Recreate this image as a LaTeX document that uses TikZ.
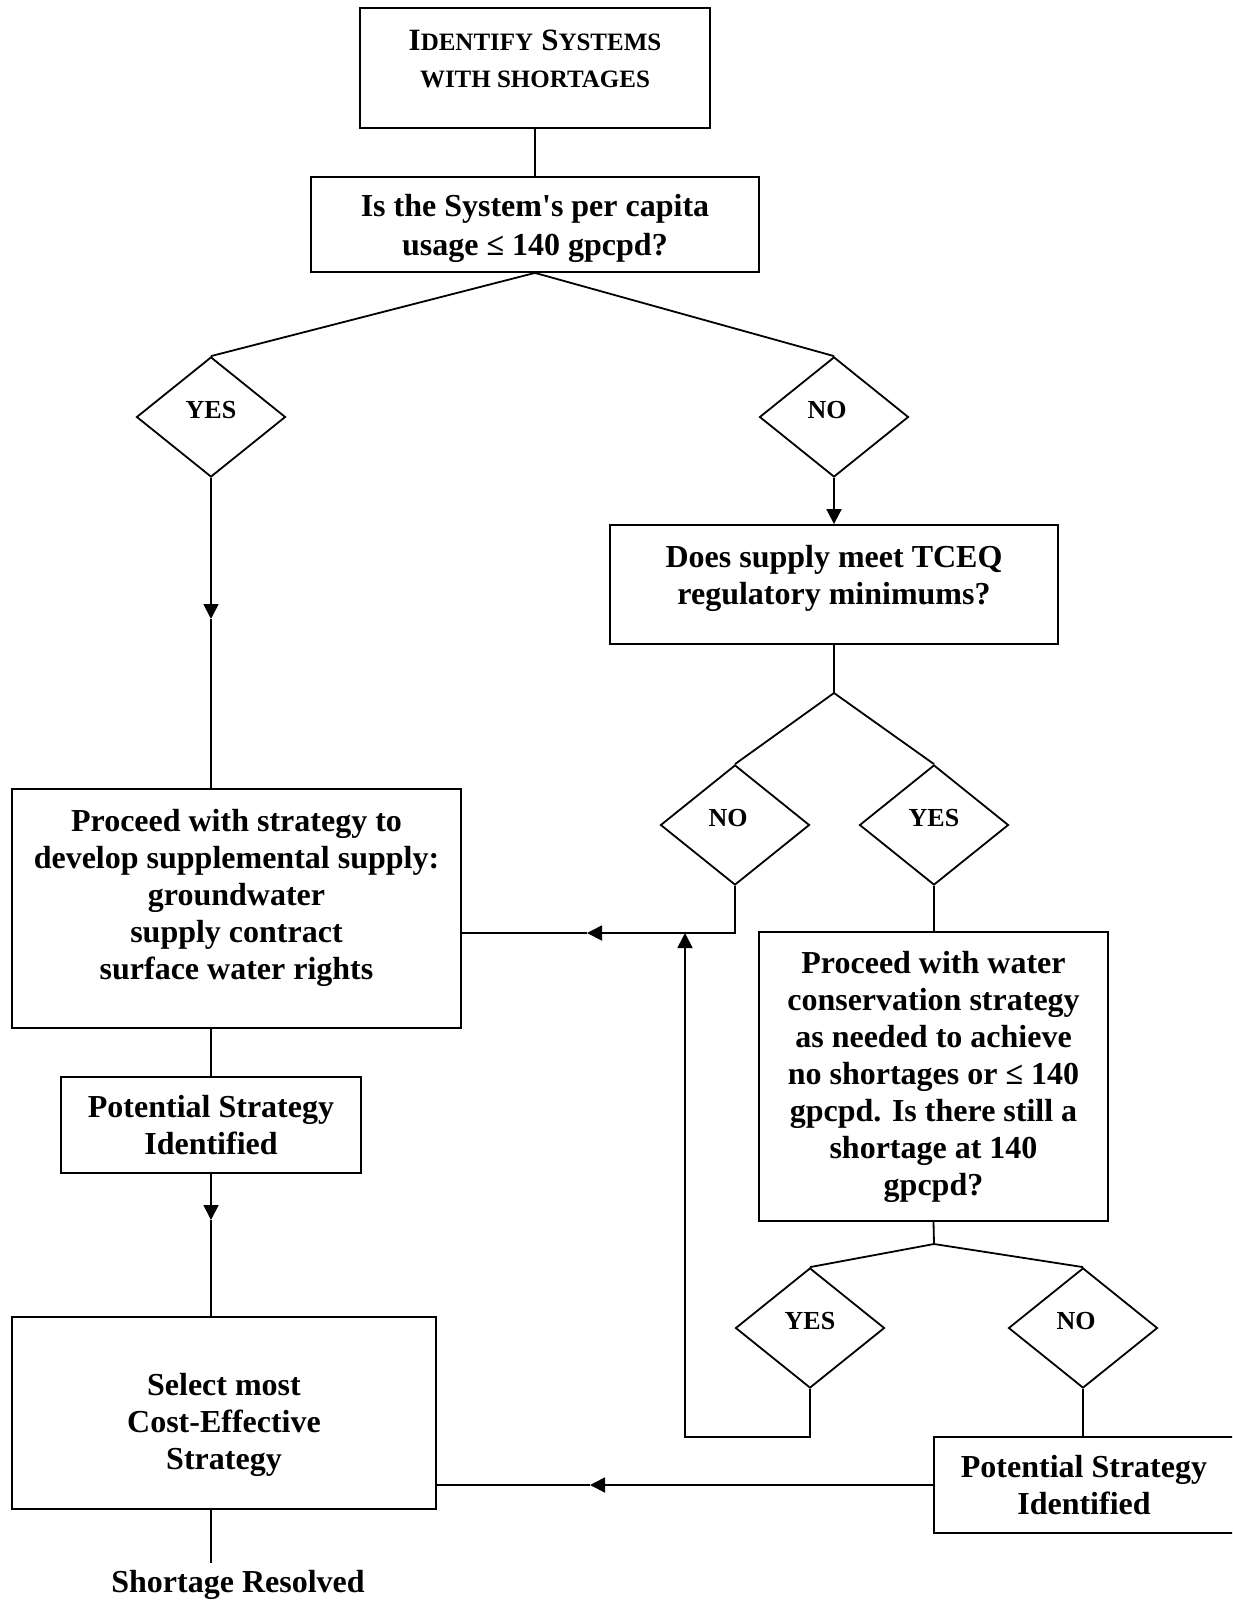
\documentclass[tikz,border=0pt]{standalone}
\usepackage{fontspec}
\setmainfont{Liberation Serif}
\usetikzlibrary{shapes.geometric,arrows.meta}

\newcommand{\capsc}[2]{{\fontsize{15.5}{18.5}\selectfont #1}{\fontsize{12.5}{18.5}\selectfont #2}}

\begin{document}
\begin{tikzpicture}[x=0.5pt,y=-0.5pt,line width=0.9pt,
	box/.style={draw, rectangle, align=center, inner sep=0pt, font=\fontsize{16}{18.5}\selectfont\bfseries},
	choice/.style={draw, diamond, inner sep=0pt, minimum width=74.5pt, minimum height=60pt, font=\fontsize{13}{15}\selectfont\bfseries, text depth=7pt},
	tip/.style={-{Triangle[length=7.5pt,width=7.5pt]}}]
	\useasboundingbox (0,0) rectangle (1232,1600);
	\clip (0,0) rectangle (1232,1600);

	% boxes and choices
	\node[box, minimum width=175pt, minimum height=60pt, text depth=9pt] (top) at (535,68) {\capsc{I}{DENTIFY} \capsc{S}{YSTEMS}\\{\fontsize{12.5}{18.5}\selectfont WITH SHORTAGES}};
	\node[box, minimum width=224pt, minimum height=47.5pt, text depth=0pt, font=\fontsize{16}{19.5}\selectfont\bfseries] (usage) at (535,224.5) {Is the System\textquotesingle s per capita\\usage ≤ 140 gpcpd?};
	\node[choice] (yes1) at (211,417) {YES};
	\node[choice] (no1) at (834,417) {NO\kern7pt};
	\node[box, minimum width=224pt, minimum height=59.5pt, text depth=9.5pt] (tceq) at (834,584.5) {Does supply meet TCEQ\\regulatory minimums?};
	\coordinate (fork2) at (834,693);
	\node[choice] (no2) at (735,825) {NO\kern7pt};
	\node[choice] (yes2) at (934,825) {YES};
	\node[box, minimum width=174.5pt, minimum height=144.5pt] (conserve) at (933.5,1076.5) {Proceed with water\\conservation strategy\\as needed to achieve\\no shortages or ≤ 140\\gpcpd. Is there still a\\shortage at 140\\gpcpd?};
	\coordinate (fork3) at (934,1244);
	\node[choice] (yes3) at (810,1328) {YES};
	\node[choice] (no3) at (1083,1328) {NO\kern7pt};
	\node[box, minimum width=150pt, minimum height=48pt] (found2) at (1084,1485) {Potential Strategy\\Identified};
	\node[box, minimum width=224.5pt, minimum height=119.5pt, text depth=14.5pt] (supply) at (236.5,908.5) {Proceed with strategy to\\develop supplemental supply:\\groundwater\\supply contract\\surface water rights};
	\node[box, minimum width=150pt, minimum height=48pt] (found1) at (211,1125) {Potential Strategy\\Identified};
	\node[box, minimum width=212pt, minimum height=96pt] (select) at (224,1413) {\rule{0pt}{23pt}Select most\\Cost-Effective\\Strategy};
	\node[font=\fontsize{16}{18.5}\selectfont\bfseries] (resolved) at (238,1585) {Shortage Resolved};

	% connectors
	\draw (top) -- (usage);
	\draw (usage.south) -- (yes1.north);
	\draw (usage.south) -- (no1.north);
	\coordinate (a1) at (211,619);
	\draw[tip] (yes1.south) -- (a1);
	\draw (a1) -- (a1 |- supply.north);
	\draw[tip] (no1) -- (tceq);
	\draw (tceq) -- (fork2);
	\draw (fork2) -- (no2.north);
	\draw (fork2) -- (yes2.north);
	\coordinate (a2) at (587,933);
	\draw[tip] (no2.south) |- (a2);
	\draw (a2) -- (a2 -| supply.east);
	\draw (yes2.south) -- (yes2.south |- conserve.north);
	\draw (conserve.south) -- (fork3);
	\draw (fork3) -- (yes3.north);
	\draw (fork3) -- (no3.north);
	\coordinate (a3) at (685,1437);
	\draw[tip] (yes3.south) |- (a3) -- (a3 |- a2);
	\draw (no3.south) -- (no3.south |- found2.north);
	\coordinate (a4) at (590,1485);
	\draw[tip] (found2.west) -- (a4);
	\draw (a4) -- (a4 -| select.east);
	\draw (supply.south -| found1) -- (found1);
	\coordinate (a5) at (211,1220);
	\draw[tip] (found1) -- (a5);
	\draw (a5) -- (a5 |- select.north);
	\draw (select.south -| found1) -- (found1 |- resolved.north);
\end{tikzpicture}
\end{document}
